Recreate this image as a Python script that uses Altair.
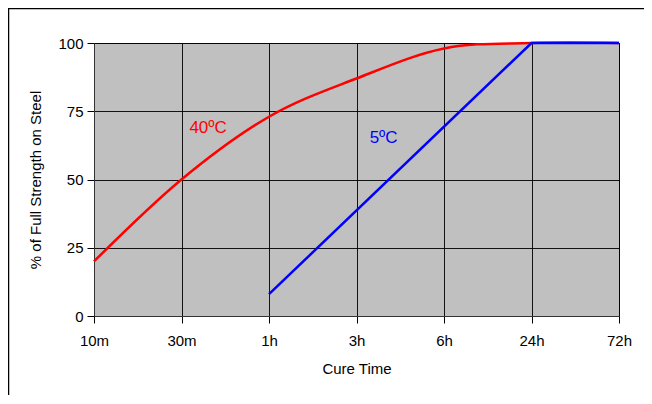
import altair as alt
import pandas as pd

tick_labels = ["10m", "30m", "1h", "3h", "6h", "24h", "72h"]

red_x = [0, 1, 2, 3, 4, 5, 6]
red_y = [20, 50, 73, 87, 98, 100, 100]

blue_x = [2, 5, 6]
blue_y = [8, 100, 100]

label_text = ["40ºC", "5ºC"]
label_x = [1.09, 3.15]
label_y = [68.9, 65.2]
label_color = ["#ff0000", "#0000ff"]

red = pd.DataFrame({"x": red_x, "y": red_y})
blue = pd.DataFrame({"x": blue_x, "y": blue_y})
labels = pd.DataFrame({"x": label_x, "y": label_y, "t": label_text, "c": label_color})

label_expr = "[" + ",".join(f"'{t}'" for t in tick_labels) + "][datum.value]"

xs = alt.Scale(domain=[0, 6], nice=False, zero=False)
ys = alt.Scale(domain=[0, 100], nice=False)

xaxis = alt.Axis(values=list(range(7)), labelExpr=label_expr, title="Cure Time",
                 grid=True, gridColor="#000000", gridOpacity=0.9, gridWidth=1,
                 tickColor="#000000", tickSize=7, domainColor="#333333",
                 labelFlush=False, labelOverlap=False,
                 labelFontSize=15, labelPadding=10, titleFontSize=15, titleFontWeight="normal",
                 titlePadding=13, labelColor="#000", titleColor="#000", labelFont="Liberation Sans",
                 titleFont="Liberation Sans")
yaxis = alt.Axis(values=[0, 25, 50, 75, 100], title="% of Full Strength on Steel",
                 grid=True, gridColor="#000000", gridOpacity=0.9, gridWidth=1,
                 tickColor="#000000", tickSize=7, domainColor="#333333",
                 labelFlush=False,
                 labelFontSize=15, labelPadding=4, titleFontSize=15, titleFontWeight="normal",
                 titlePadding=14, labelColor="#000", titleColor="#000", labelFont="Liberation Sans",
                 titleFont="Liberation Sans")

base_red = alt.Chart(red).mark_line(color="#ff0000", strokeWidth=2.5, interpolate="cardinal", tension=0).encode(
    x=alt.X("x:Q", scale=xs, axis=xaxis),
    y=alt.Y("y:Q", scale=ys, axis=yaxis),
)
line_blue = alt.Chart(blue).mark_line(color="#0000ff", strokeWidth=2.5).encode(
    x=alt.X("x:Q", scale=xs),
    y=alt.Y("y:Q", scale=ys),
)
text = alt.Chart(labels).mark_text(fontSize=17, align="left", baseline="middle", font="Liberation Sans").encode(
    x=alt.X("x:Q", scale=xs),
    y=alt.Y("y:Q", scale=ys),
    text="t:N",
    color=alt.Color("c:N", scale=None),
)
frame = alt.Chart(pd.DataFrame({"a": [0]})).mark_rect(filled=False, stroke="#000000", strokeWidth=1.5, clip=False).encode(
    x=alt.value(-85.5), x2=alt.value(700), y=alt.value(-34.5), y2=alt.value(500)
)

chart = alt.layer(base_red, line_blue, text, frame).properties(
    width=525, height=273,
    padding={"left": 86, "top": 35, "right": 25, "bottom": 79},
    autosize=alt.AutoSizeParams(type="none"),
    background="#ffffff",
).configure(font="Liberation Sans").configure_view(fill="#c0c0c0", stroke="#333333", strokeWidth=1)

chart.save("out.html", embed_options={"renderer": "svg", "actions": False})
